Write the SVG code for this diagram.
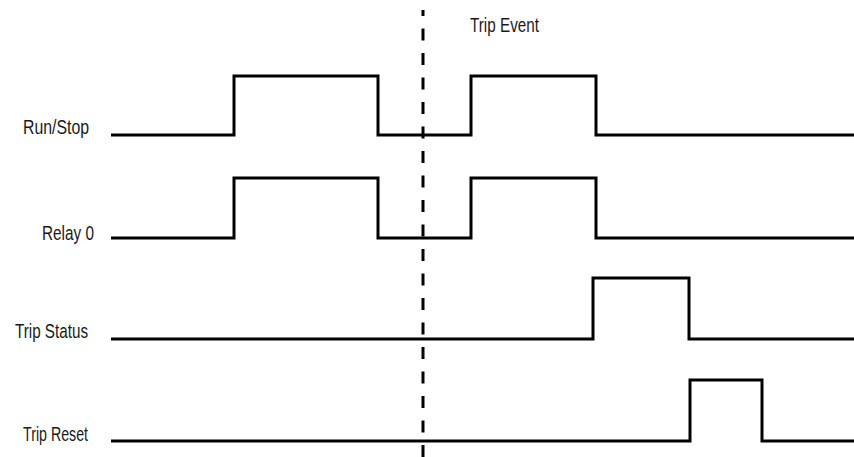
<svg xmlns="http://www.w3.org/2000/svg" width="854" height="457" viewBox="0 0 854 457">
<style>
.sig{fill:none;stroke:#000;stroke-width:3;stroke-linejoin:miter;stroke-linecap:butt}
.lbl{font-family:"Liberation Sans",Arial,sans-serif;font-size:20.5px;fill:#1a1a1a}
.evt{fill:none;stroke:#000;stroke-width:3;stroke-dasharray:12 12.5;stroke-dashoffset:6}
</style>
<rect width="854" height="457" fill="#fff"/>
<g id="run-stop">
<text class="lbl" x="23" y="134" textLength="66" lengthAdjust="spacingAndGlyphs">Run/Stop</text>
<path class="sig" d="M111,135 H234 V76 H378 V135 H471 V76 H596 V135 H854"/>
</g>
<g id="relay-0">
<text class="lbl" x="42" y="240" textLength="52" lengthAdjust="spacingAndGlyphs">Relay 0</text>
<path class="sig" d="M111,238 H234 V178 H378 V238 H471 V178 H596 V238 H854"/>
</g>
<g id="trip-status">
<text class="lbl" x="15" y="338" textLength="73" lengthAdjust="spacingAndGlyphs">Trip Status</text>
<path class="sig" d="M111,339 H593 V278 H689 V339 H854"/>
</g>
<g id="trip-reset">
<text class="lbl" x="23" y="441" textLength="65" lengthAdjust="spacingAndGlyphs">Trip Reset</text>
<path class="sig" d="M111,441 H690 V380 H762 V441 H854"/>
</g>
<g id="connectors">
<line class="evt" x1="423" y1="10" x2="423" y2="457"/>
</g>
<g id="trip-event">
<text class="lbl" x="470" y="32" textLength="69" lengthAdjust="spacingAndGlyphs">Trip Event</text>
</g>
</svg>
